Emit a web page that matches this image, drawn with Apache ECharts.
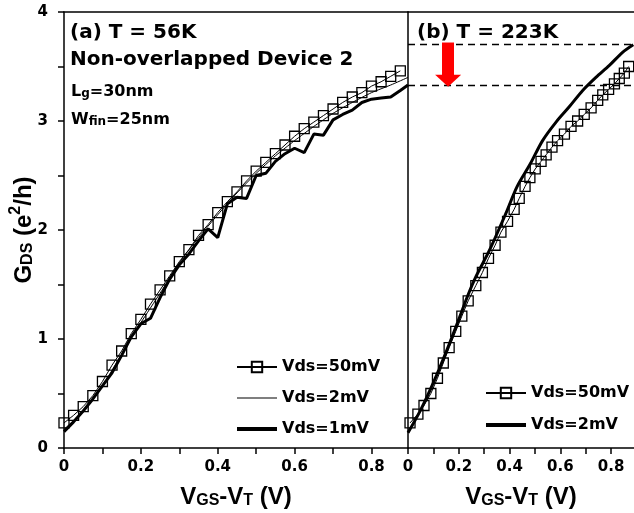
<!DOCTYPE html>
<html>
<head>
<meta charset="utf-8">
<script src="https://cdn.jsdelivr.net/npm/echarts@6/dist/echarts.min.js"></script>
<style>
  html, body { margin: 0; padding: 0; background: #fff; }
  #main { width: 634px; height: 513px; }
</style>
</head>
<body>
<div id="main"></div>
<script>
// ---- data ----
// panel (a), T = 56K
const xLeft = [0, 0.025, 0.05, 0.075, 0.1, 0.125, 0.15, 0.175, 0.2, 0.225, 0.25, 0.275, 0.3, 0.325, 0.35, 0.375, 0.4, 0.425,
  0.45, 0.475, 0.5, 0.525, 0.55, 0.575, 0.6, 0.625, 0.65, 0.675, 0.7, 0.725, 0.75, 0.775, 0.8, 0.825, 0.85, 0.875];
const gLeft50 = [0.23, 0.30, 0.38, 0.48, 0.61, 0.76, 0.89, 1.05, 1.18, 1.32, 1.45, 1.58, 1.71, 1.82, 1.95, 2.05, 2.16, 2.26,
  2.35, 2.45, 2.54, 2.62, 2.70, 2.78, 2.86, 2.93, 2.99, 3.05, 3.11, 3.17, 3.22, 3.26, 3.32, 3.36, 3.41, 3.46];
const xLeft1 = [0, 0.025, 0.05, 0.075, 0.1, 0.125, 0.15, 0.175, 0.2, 0.225, 0.25, 0.275, 0.3, 0.325, 0.35, 0.375, 0.4, 0.425,
  0.45, 0.475, 0.5, 0.525, 0.55, 0.575, 0.6, 0.625, 0.65, 0.675, 0.7, 0.725, 0.75, 0.775, 0.8, 0.825, 0.85, 0.875, 0.895];
const gLeft1 = [0.15, 0.24, 0.34, 0.45, 0.57, 0.69, 0.85, 1.02, 1.14, 1.19, 1.38, 1.55, 1.68, 1.78, 1.90, 2.01, 1.93, 2.24,
  2.30, 2.29, 2.50, 2.52, 2.63, 2.70, 2.75, 2.71, 2.88, 2.87, 3.01, 3.06, 3.10, 3.17, 3.20, 3.21, 3.22, 3.28, 3.33];
const xLeft2 = [0, 0.05, 0.1, 0.15, 0.2, 0.25, 0.3, 0.35, 0.4, 0.45, 0.5, 0.55, 0.6, 0.65, 0.7, 0.75, 0.8, 0.85, 0.895];
const gLeft2 = [0.17, 0.34, 0.57, 0.86, 1.15, 1.42, 1.70, 1.93, 2.14, 2.34, 2.52, 2.68, 2.82, 2.95, 3.07, 3.17, 3.26, 3.33, 3.40];

// panel (b), T = 223K
const xRight50 = [0.008, 0.039, 0.063, 0.09, 0.116, 0.139, 0.162, 0.188, 0.212, 0.237, 0.267, 0.293, 0.317, 0.343, 0.366,
  0.392, 0.418, 0.438, 0.461, 0.48, 0.501, 0.524, 0.544, 0.567, 0.589, 0.616, 0.642, 0.668, 0.694, 0.721, 0.747, 0.767,
  0.79, 0.813, 0.832, 0.852, 0.869];
const gRight50 = [0.23, 0.31, 0.39, 0.50, 0.64, 0.78, 0.92, 1.07, 1.21, 1.35, 1.49, 1.61, 1.74, 1.86, 1.98,
  2.08, 2.19, 2.29, 2.40, 2.48, 2.56, 2.63, 2.69, 2.76, 2.82, 2.88, 2.95, 3.00, 3.06, 3.12, 3.19, 3.24,
  3.29, 3.34, 3.39, 3.44, 3.50];
const xRight2 = [0, 0.05, 0.1, 0.15, 0.2, 0.234, 0.267, 0.32, 0.385, 0.43, 0.48, 0.53, 0.583, 0.635, 0.688, 0.74, 0.793, 0.845, 0.887];
const gRight2 = [0.14, 0.35, 0.60, 0.88, 1.18, 1.39, 1.57, 1.81, 2.15, 2.40, 2.60, 2.82, 2.99, 3.13, 3.28, 3.40, 3.51, 3.63, 3.70];

const levelHigh = 3.70;   // dashed reference lines
const levelLow = 3.33;
const arrowX = 0.158, arrowFrom = 3.72, arrowTo = 3.37;

const legendNames = { a50: 'Vds=50mV', a2: 'Vds=2mV', a1: 'Vds=1mV', b50: 'Vds=50mV', b2: 'Vds=2mV' };

const pairs = (xs, ys) => xs.map((x, i) => [x, ys[i]]);

// ---- styles ----
const INK = '#000';
const tickFont = { fontFamily: 'DejaVu Sans', fontWeight: 'bold', fontSize: 15, color: INK };
const nameRich = {
  m: { fontFamily: 'Liberation Sans', fontWeight: 'bold', fontSize: 24, lineHeight: 28, verticalAlign: 'bottom', color: INK },
  s: { fontFamily: 'Liberation Sans', fontWeight: 'bold', fontSize: 16, lineHeight: 22, verticalAlign: 'bottom', color: INK },
  p: { fontFamily: 'Liberation Sans', fontWeight: 'bold', fontSize: 16, lineHeight: 16, verticalAlign: 'top', color: INK }
};
const legendText = { fontFamily: 'DejaVu Sans', fontWeight: 'bold', fontSize: 16, color: INK };
const noSymbol = { opacity: 0 };
const hidden = { axisLine: { show: false }, axisTick: { show: false }, axisLabel: { show: false }, splitLine: { show: false } };

function xLabel(v) {
  const k = Math.round(v * 10);
  if (k % 2 !== 0) return '';
  return k === 0 ? '0' : (k / 10).toFixed(1);
}

function bottomX(gridIndex, max) {
  return {
    type: 'value', gridIndex: gridIndex, min: 0, max: max, interval: 0.1,
    axisLine: { show: true, onZero: false, lineStyle: { color: INK, width: 1.5 } },
    axisTick: { show: false },
    splitLine: { show: false },
    axisLabel: Object.assign({ margin: 12, formatter: xLabel, showMaxLabel: false }, tickFont),
    name: '{m|V}{s|GS}{m|-V}{s|T}{m| (V)}',
    nameLocation: 'middle', nameGap: 33, nameMoveOverlap: false,
    nameTextStyle: { rich: nameRich }
  };
}
function topX(gridIndex, max) {
  return {
    type: 'value', gridIndex: gridIndex, position: 'top', min: 0, max: max,
    axisLine: { show: true, onZero: false, lineStyle: { color: INK, width: 1.5 } },
    axisTick: { show: false }, axisLabel: { show: false }, splitLine: { show: false }
  };
}
// thin strips just outside the plots; their split lines act as tick marks
function tickStripX(gridIndex, max) {
  return Object.assign({}, hidden, {
    type: 'value', gridIndex: gridIndex, min: 0, max: max, interval: 0.1,
    splitLine: { show: true, showMaxLine: false, lineStyle: { color: INK, width: 1.5 } }
  });
}

const lineSeries = (name, xi, xs, ys, width, extra) => Object.assign({
  name: name, type: 'line', xAxisIndex: xi, yAxisIndex: xi,
  data: pairs(xs, ys), symbol: 'none',
  lineStyle: { color: INK, width: width },
  itemStyle: { color: INK },
  emphasis: { disabled: true }
}, extra || {});

const markerStyle = {
  symbol: 'rect', symbolSize: 10, showAllSymbol: true,
  itemStyle: { color: 'transparent', borderColor: INK, borderWidth: 1.3 }
};

const option = {
  animation: false,
  backgroundColor: '#fff',
  grid: [
    { left: 64, top: 12, width: 344, height: 436, containLabel: false, outerBoundsMode: 'none' },
    { left: 408, top: 12, width: 226, height: 436, containLabel: false, outerBoundsMode: 'none' },
    { left: 64, top: 448, width: 344, height: 6, containLabel: false, outerBoundsMode: 'none' },
    { left: 408, top: 448, width: 226, height: 6, containLabel: false, outerBoundsMode: 'none' },
    { left: 58, top: 12, width: 6, height: 436, containLabel: false, outerBoundsMode: 'none' }
  ],
  xAxis: [
    bottomX(0, 0.895), bottomX(1, 0.89), topX(0, 0.895), topX(1, 0.89),
    tickStripX(2, 0.895), tickStripX(3, 0.89),
    Object.assign({}, hidden, { type: 'value', gridIndex: 4, min: 0, max: 1 })
  ],
  yAxis: [
    {
      type: 'value', gridIndex: 0, min: 0, max: 4, interval: 1,
      axisLine: { show: true, onZero: false, lineStyle: { color: INK, width: 1.5 } },
      axisTick: { show: false },
      splitLine: { show: false },
      axisLabel: Object.assign({ margin: 16 }, tickFont),
      name: '{m|G}{s|DS}{m| (e}{p|2}{m|/h)}',
      nameLocation: 'middle', nameGap: 28, nameMoveOverlap: false,
      nameTextStyle: { rich: nameRich }
    },
    {
      type: 'value', gridIndex: 1, min: 0, max: 4,
      axisLine: { show: true, onZero: false, lineStyle: { color: INK, width: 1.5 } },
      axisTick: { show: false }, axisLabel: { show: false }, splitLine: { show: false }
    },
    Object.assign({}, hidden, { type: 'value', gridIndex: 2, min: 0, max: 1 }),
    Object.assign({}, hidden, { type: 'value', gridIndex: 3, min: 0, max: 1 }),
    Object.assign({}, hidden, {
      type: 'value', gridIndex: 4, min: 0, max: 4, interval: 0.5,
      splitLine: { show: true, lineStyle: { color: INK, width: 1.5 } }
    })
  ],
  legend: [
    {
      data: [
        { name: 'a50' },
        { name: 'a2', itemStyle: noSymbol, lineStyle: { width: 1.2 } },
        { name: 'a1', itemStyle: noSymbol, lineStyle: { width: 4 } }
      ],
      orient: 'vertical', left: 235, top: 359, padding: 0,
      itemWidth: 40, itemHeight: 13, itemGap: 15, selectedMode: false,
      formatter: n => legendNames[n],
      textStyle: legendText
    },
    {
      data: [
        { name: 'b50' },
        { name: 'b2', itemStyle: noSymbol, lineStyle: { width: 4 } }
      ],
      orient: 'vertical', left: 484, top: 385, padding: 0,
      itemWidth: 40, itemHeight: 13, itemGap: 16, selectedMode: false,
      formatter: n => legendNames[n],
      textStyle: legendText
    }
  ],
  graphic: [
    { type: 'text', x: 70, y: 33, style: { text: '(a) T = 56K', font: 'bold 20px "DejaVu Sans"', fill: INK, verticalAlign: 'middle' } },
    { type: 'text', x: 70, y: 60, style: { text: 'Non-overlapped Device 2', font: 'bold 20px "DejaVu Sans"', fill: INK, verticalAlign: 'middle' } },
    {
      type: 'text', x: 71, y: 91,
      style: {
        text: '{m|L}{s|g}{m|=30nm}', fill: INK, verticalAlign: 'middle',
        rich: {
          m: { fontFamily: 'DejaVu Sans', fontWeight: 'bold', fontSize: 16, lineHeight: 18, verticalAlign: 'bottom' },
          s: { fontFamily: 'DejaVu Sans', fontWeight: 'bold', fontSize: 12, lineHeight: 10, verticalAlign: 'bottom' }
        }
      }
    },
    {
      type: 'text', x: 71, y: 119,
      style: {
        text: '{m|W}{s|fin}{m|=25nm}', fill: INK, verticalAlign: 'middle',
        rich: {
          m: { fontFamily: 'DejaVu Sans', fontWeight: 'bold', fontSize: 16, lineHeight: 18, verticalAlign: 'bottom' },
          s: { fontFamily: 'DejaVu Sans', fontWeight: 'bold', fontSize: 12, lineHeight: 10, verticalAlign: 'bottom' }
        }
      }
    },
    { type: 'text', x: 417, y: 33, style: { text: '(b) T = 223K', font: 'bold 20px "DejaVu Sans"', fill: INK, verticalAlign: 'middle' } }
  ],
  series: [
    lineSeries('a1', 0, xLeft1, gLeft1, 3),
    lineSeries('a2', 0, xLeft2, gLeft2, 1, { smooth: 0.2 }),
    lineSeries('a50', 0, xLeft, gLeft50, 1, markerStyle),
    lineSeries('b50', 1, xRight50, gRight50, 1, markerStyle),
    lineSeries('b2', 1, xRight2, gRight2, 3, {
      smooth: 0.3,
      markLine: {
        silent: true, animation: false,
        symbol: ['none', 'none'],
        label: { show: false },
        emphasis: { disabled: true },
        lineStyle: { color: INK, width: 1.3, type: [7, 5] },
        data: [
          { yAxis: levelHigh },
          { yAxis: levelLow },
          [
            { coord: [arrowX, arrowFrom], lineStyle: { color: '#ff0000', width: 12, type: 'solid' } },
            { coord: [arrowX, arrowTo], symbol: 'triangle', symbolSize: [26, 12] }
          ]
        ]
      }
    })
  ]
};

const chart = echarts.init(document.getElementById('main'), null, { renderer: 'canvas' });
chart.setOption(option);
</script>
</body>
</html>
